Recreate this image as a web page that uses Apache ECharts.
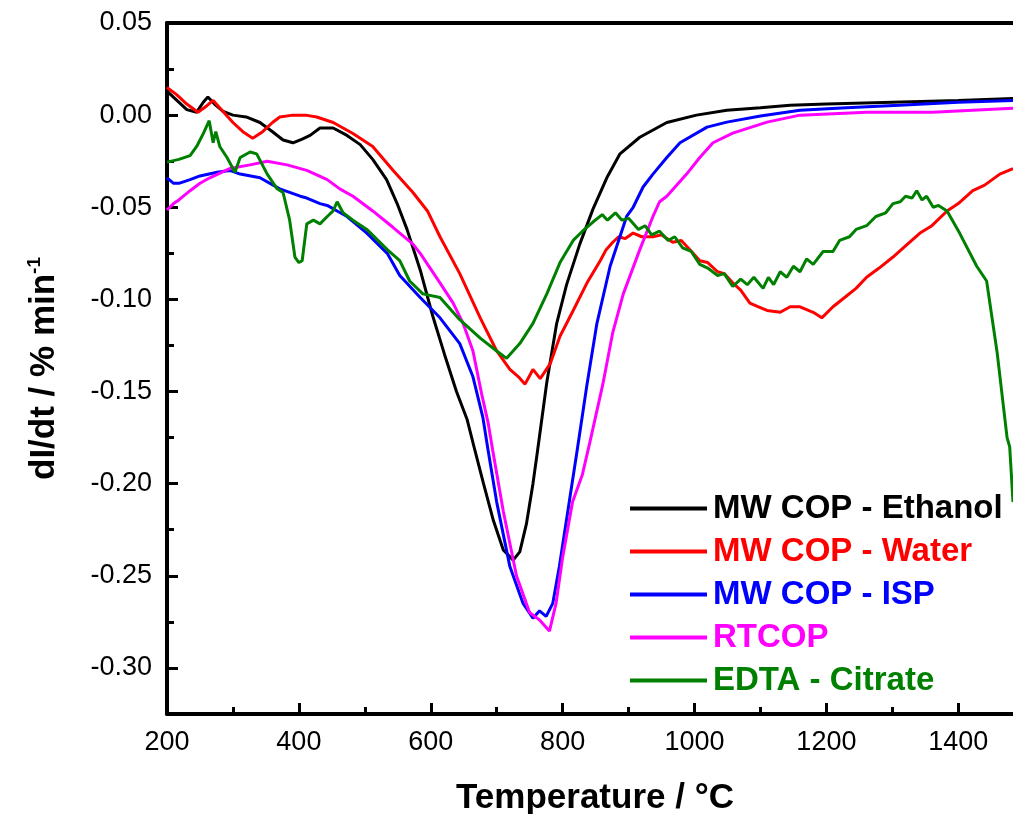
<!DOCTYPE html>
<html>
<head>
<meta charset="utf-8">
<script src="https://cdn.jsdelivr.net/npm/echarts@6/dist/echarts.min.js"></script>
<style>html,body{margin:0;padding:0;background:#fff}#c{width:1013px;height:814px}</style>
</head>
<body>
<div id="c"></div>
<script>
const seriesNames = ['MW COP - Ethanol', 'MW COP - Water', 'MW COP - ISP', 'RTCOP', 'EDTA - Citrate'];
const seriesColors = ['#000000', '#ff0000', '#0000ff', '#ff00ff', '#008000'];

const ethanol = [[200,0.013],[215,0.008],[230,0.003],[245,0.0016],[255,0.007],[262,0.0098],[272,0.006],[285,0.002],[300,0.0],[320,-0.001],[341,-0.004],[360,-0.009],[376,-0.0135],[391,-0.015],[405,-0.013],[417,-0.011],[432,-0.007],[452,-0.007],[473,-0.011],[493,-0.016],[512,-0.024],[533,-0.035],[549,-0.048],[564,-0.062],[584,-0.084],[603,-0.109],[621,-0.130],[639,-0.150],[655,-0.165],[667,-0.182],[680,-0.200],[695,-0.220],[710,-0.236],[725,-0.2415],[735,-0.237],[745,-0.222],[755,-0.200],[762,-0.182],[776,-0.145],[791,-0.113],[806,-0.092],[826,-0.070],[846,-0.051],[867,-0.034],[887,-0.021],[917,-0.012],[958,-0.004],[1003,0.0],[1049,0.0027],[1100,0.004],[1145,0.0054],[1200,0.006],[1300,0.007],[1400,0.008],[1483,0.009]];

const water = [[200,0.015],[215,0.011],[230,0.006],[247,0.0016],[260,0.005],[270,0.008],[285,0.002],[300,-0.004],[315,-0.009],[330,-0.0125],[345,-0.009],[360,-0.004],[371,-0.001],[391,0.0],[410,0.0],[427,-0.001],[452,-0.004],[482,-0.010],[512,-0.017],[543,-0.030],[573,-0.042],[595,-0.052],[614,-0.066],[644,-0.086],[675,-0.110],[700,-0.128],[720,-0.138],[733,-0.142],[743,-0.146],[755,-0.138],[766,-0.143],[781,-0.135],[796,-0.120],[816,-0.106],[837,-0.091],[857,-0.079],[866,-0.073],[876,-0.069],[885,-0.066],[895,-0.067],[907,-0.064],[920,-0.066],[937,-0.066],[950,-0.065],[967,-0.069],[980,-0.068],[993,-0.073],[1008,-0.079],[1020,-0.080],[1035,-0.085],[1045,-0.086],[1058,-0.091],[1070,-0.095],[1084,-0.102],[1097,-0.104],[1110,-0.106],[1130,-0.107],[1145,-0.104],[1160,-0.104],[1180,-0.107],[1193,-0.110],[1210,-0.104],[1231,-0.098],[1245,-0.094],[1261,-0.088],[1280,-0.083],[1301,-0.077],[1320,-0.071],[1342,-0.064],[1360,-0.060],[1383,-0.052],[1400,-0.048],[1422,-0.041],[1440,-0.038],[1463,-0.032],[1483,-0.029]];

const isp = [[200,-0.034],[210,-0.037],[218,-0.037],[235,-0.035],[250,-0.033],[276,-0.031],[295,-0.030],[311,-0.032],[341,-0.034],[371,-0.040],[402,-0.044],[412,-0.045],[432,-0.048],[443,-0.049],[458,-0.052],[473,-0.055],[503,-0.064],[534,-0.075],[553,-0.087],[584,-0.099],[614,-0.110],[644,-0.124],[664,-0.142],[679,-0.164],[687,-0.182],[700,-0.210],[720,-0.245],[740,-0.265],[755,-0.273],[765,-0.269],[775,-0.272],[785,-0.265],[795,-0.245],[810,-0.210],[822,-0.182],[837,-0.146],[852,-0.113],[872,-0.082],[897,-0.055],[907,-0.050],[922,-0.039],[937,-0.032],[958,-0.023],[978,-0.015],[1019,-0.0065],[1049,-0.0038],[1100,-0.0005],[1160,0.0027],[1230,0.004],[1311,0.0054],[1400,0.007],[1483,0.008]];

const rtcop = [[200,-0.0515],[210,-0.048],[218,-0.046],[235,-0.041],[250,-0.037],[265,-0.034],[295,-0.029],[326,-0.027],[352,-0.025],[382,-0.027],[412,-0.030],[443,-0.035],[462,-0.040],[482,-0.044],[512,-0.052],[543,-0.061],[573,-0.070],[584,-0.075],[614,-0.091],[634,-0.102],[649,-0.113],[664,-0.128],[677,-0.151],[687,-0.167],[694,-0.182],[710,-0.215],[730,-0.250],[750,-0.270],[765,-0.274],[780,-0.280],[790,-0.265],[800,-0.240],[815,-0.210],[830,-0.195],[841,-0.178],[861,-0.146],[876,-0.118],[892,-0.097],[917,-0.073],[937,-0.055],[947,-0.047],[958,-0.044],[988,-0.032],[1008,-0.023],[1028,-0.015],[1058,-0.0098],[1110,-0.0038],[1160,0.0],[1261,0.0016],[1361,0.0016],[1483,0.0038]];

const citrate = [[200,-0.0255],[218,-0.024],[235,-0.022],[245,-0.017],[255,-0.010],[264,-0.003],[270,-0.015],[274,-0.009],[280,-0.017],[291,-0.023],[303,-0.031],[311,-0.023],[326,-0.020],[336,-0.021],[352,-0.032],[367,-0.040],[376,-0.042],[386,-0.057],[394,-0.077],[400,-0.080],[405,-0.079],[412,-0.059],[422,-0.057],[432,-0.059],[443,-0.055],[452,-0.052],[458,-0.047],[467,-0.053],[482,-0.057],[503,-0.062],[534,-0.073],[553,-0.079],[568,-0.090],[588,-0.097],[614,-0.099],[644,-0.111],[675,-0.121],[700,-0.128],[715,-0.132],[735,-0.124],[755,-0.113],[776,-0.097],[796,-0.080],[816,-0.068],[830,-0.063],[846,-0.058],[860,-0.054],[868,-0.057],[880,-0.053],[890,-0.057],[900,-0.056],[915,-0.062],[925,-0.060],[935,-0.065],[947,-0.063],[960,-0.068],[970,-0.066],[982,-0.072],[995,-0.074],[1008,-0.081],[1020,-0.083],[1035,-0.087],[1045,-0.086],[1058,-0.093],[1070,-0.089],[1080,-0.092],[1090,-0.088],[1104,-0.094],[1112,-0.088],[1120,-0.092],[1130,-0.085],[1140,-0.088],[1150,-0.082],[1160,-0.085],[1170,-0.078],[1180,-0.081],[1195,-0.074],[1210,-0.074],[1220,-0.068],[1235,-0.066],[1245,-0.062],[1261,-0.060],[1275,-0.055],[1290,-0.053],[1301,-0.048],[1312,-0.047],[1320,-0.044],[1330,-0.045],[1337,-0.041],[1345,-0.046],[1352,-0.044],[1362,-0.050],[1370,-0.049],[1383,-0.052],[1402,-0.064],[1428,-0.082],[1443,-0.090],[1459,-0.129],[1474,-0.175],[1478,-0.180],[1483,-0.210]];

const xMajorTicks = [200,400,600,800,1000,1200,1400];
const xMinorTicks = [300,500,700,900,1100,1300];
const yMajorTicks = [0.05,0.00,-0.05,-0.10,-0.15,-0.20,-0.25,-0.30];
const yMinorTicks = [0.025,-0.025,-0.075,-0.125,-0.175,-0.225,-0.275];
const xRange = [200, 1483];
const yRange = [-0.325, 0.05];

const allData = [ethanol, water, isp, rtcop, citrate];
const FONT = '"Liberation Sans", Arial, sans-serif';

const chart = echarts.init(document.getElementById('c'), null, {renderer: 'canvas'});
const axisLineStyle = {color: '#000', width: 4};
chart.setOption({
  animation: false,
  backgroundColor: '#fff',
  grid: {left: 167, right: 0, top: 23, bottom: 100, containLabel: false, outerBoundsMode: 'none'},
  legend: {
    orient: 'vertical', left: 625, top: 487, itemWidth: 77, itemHeight: 4, itemGap: 10,
    icon: 'rect',
    textStyle: {fontFamily: FONT, fontWeight: 'bold', fontSize: 33, lineHeight: 32, padding: [0,0,0,1]},
    data: seriesNames.map((n, i) => ({name: n, textStyle: {color: seriesColors[i]}}))
  },
  xAxis: [
    {type: 'value', min: xRange[0], max: xRange[1], position: 'bottom',
     axisLine: {show: true, onZero: false, lineStyle: axisLineStyle},
     axisTick: {show: true, inside: true, length: 11, lineStyle: {width: 3, color: '#000'}, customValues: xMajorTicks},
     axisLabel: {customValues: xMajorTicks, fontFamily: FONT, fontSize: 27, color: '#000', margin: 15,
                 formatter: v => String(Math.round(v))},
     splitLine: {show: false},
     name: 'Temperature / °C', nameLocation: 'middle', nameGap: 67,
     nameTextStyle: {fontFamily: FONT, fontWeight: 'bold', fontSize: 35, color: '#000', padding: [0,0,0,10]}},
    {type: 'value', min: xRange[0], max: xRange[1], position: 'bottom',
     axisLine: {show: false, onZero: false},
     axisTick: {show: true, inside: true, length: 7, lineStyle: {width: 3, color: '#000'}, customValues: xMinorTicks},
     axisLabel: {show: false}, splitLine: {show: false}},
    {type: 'value', min: xRange[0], max: xRange[1], position: 'top',
     axisLine: {show: true, onZero: false, lineStyle: axisLineStyle},
     axisTick: {show: false}, axisLabel: {show: false}, splitLine: {show: false}}
  ],
  yAxis: [
    {type: 'value', min: yRange[0], max: yRange[1], position: 'left',
     axisLine: {show: true, onZero: false, lineStyle: axisLineStyle},
     axisTick: {show: true, inside: true, length: 11, lineStyle: {width: 3, color: '#000'}, customValues: yMajorTicks},
     axisLabel: {customValues: yMajorTicks, fontFamily: FONT, fontSize: 27, color: '#000', margin: 15,
                 formatter: v => Number(v).toFixed(2)},
     splitLine: {show: false},
     name: '{a|dI/dt / % min}{b|-1}', nameLocation: 'middle', nameGap: 104, nameRotate: 90,
     nameTextStyle: {fontFamily: FONT, fontWeight: 'bold', fontSize: 35, color: '#000',
       rich: {a: {fontFamily: FONT, fontWeight: 'bold', fontSize: 35, color: '#000', lineHeight: 38},
              b: {fontFamily: FONT, fontWeight: 'bold', fontSize: 19, color: '#000', verticalAlign: 'top', lineHeight: 38, padding: [0,0,16,0]}}}},
    {type: 'value', min: yRange[0], max: yRange[1], position: 'left',
     axisLine: {show: false, onZero: false},
     axisTick: {show: true, inside: true, length: 7, lineStyle: {width: 3, color: '#000'}, customValues: yMinorTicks},
     axisLabel: {show: false}, splitLine: {show: false}}
  ],
  series: seriesNames.map((n, i) => ({
    name: n, type: 'line', data: allData[i], xAxisIndex: 0, yAxisIndex: 0,
    showSymbol: false, symbol: 'none', clip: true,
    lineStyle: {color: seriesColors[i], width: 3},
    itemStyle: {color: seriesColors[i]}
  }))
});
</script>
</body>
</html>
